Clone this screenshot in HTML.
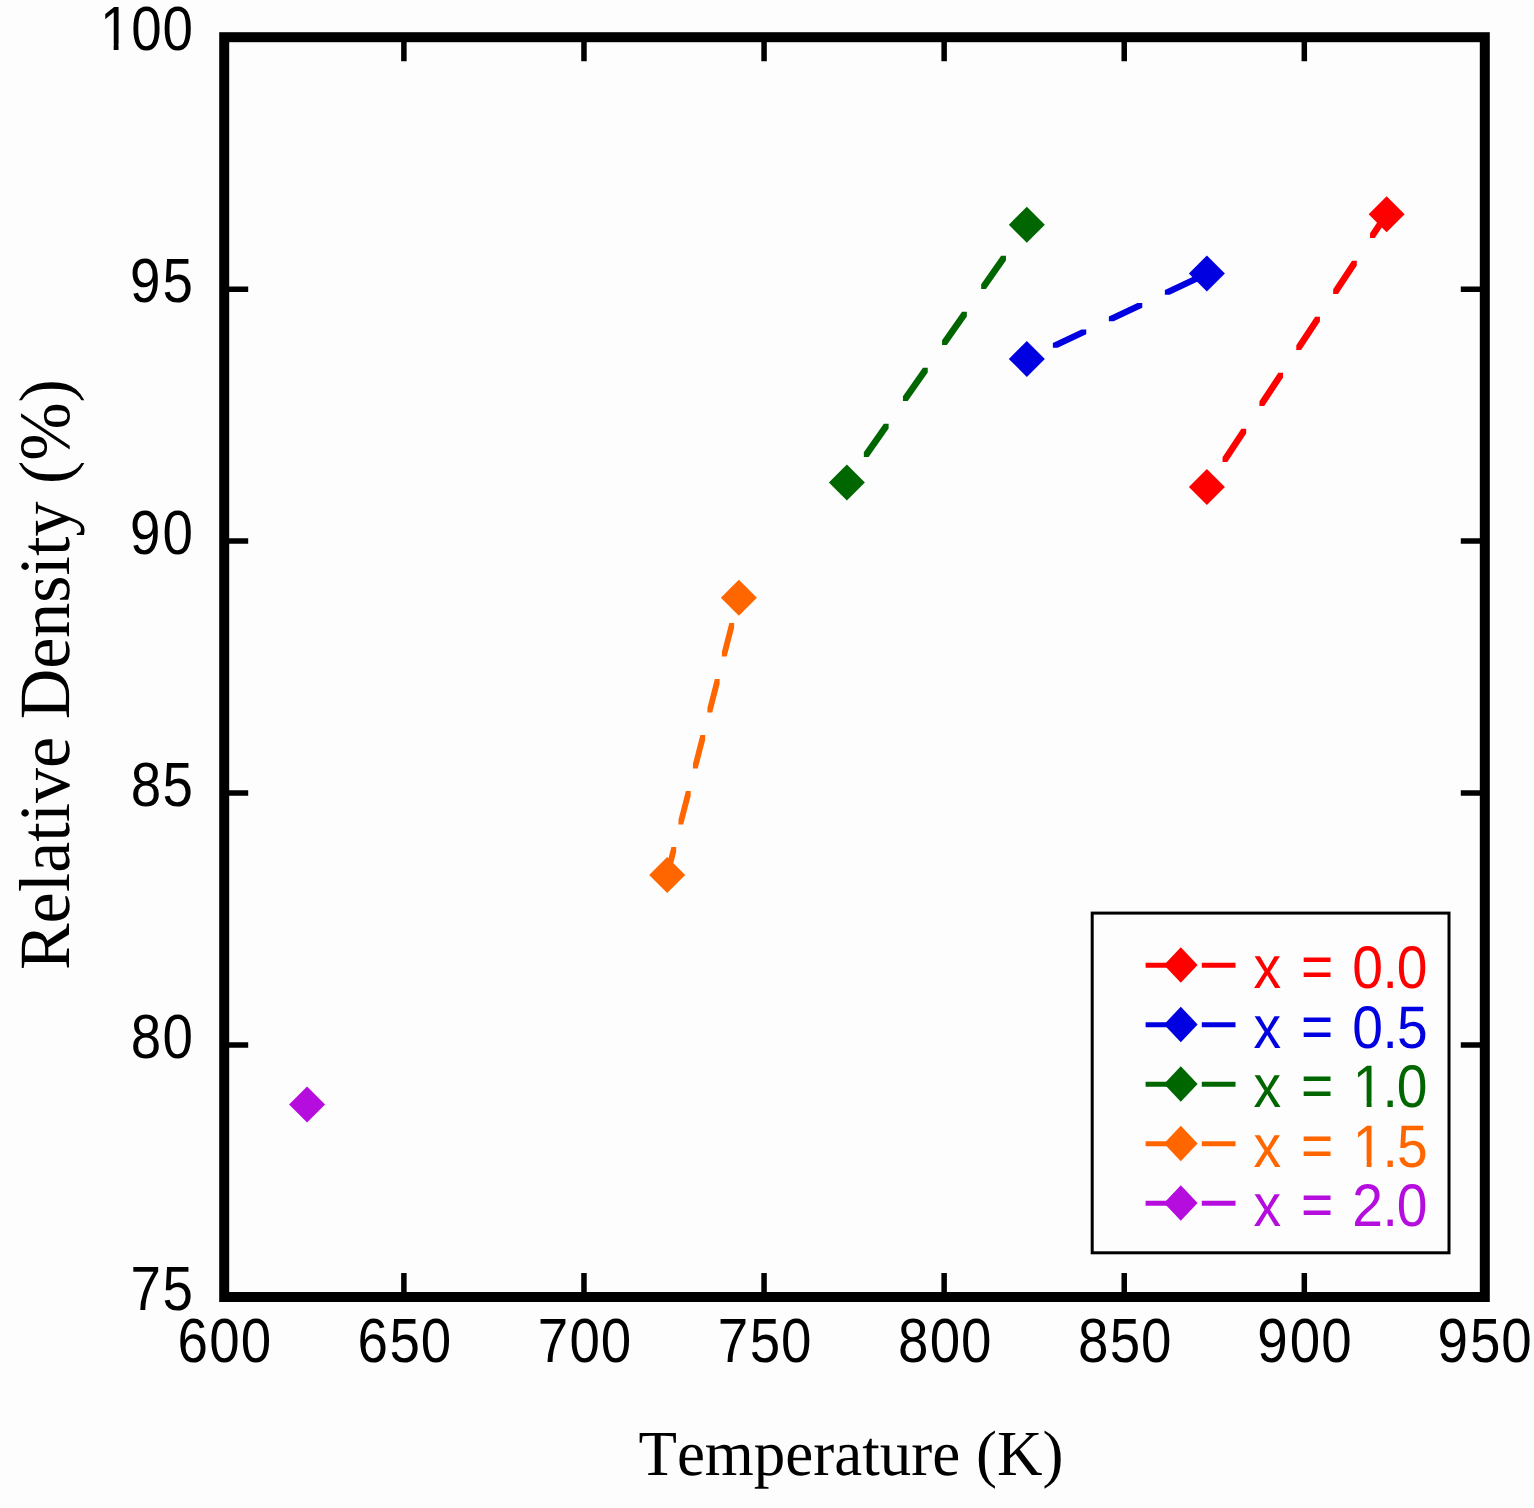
<!DOCTYPE html>
<html lang="en"><head><meta charset="utf-8">
<title>Relative Density vs Temperature</title>
<style>
html,body{margin:0;padding:0;background:#fdfdfd;}
body{width:1534px;height:1508px;}
svg{display:block;filter:blur(0.5px);}
text{font-kerning:none;font-variant-ligatures:none;text-rendering:geometricPrecision;white-space:pre;}
.sans{font-family:"Liberation Sans",Arial,Helvetica,sans-serif;}
.serif{font-family:"Liberation Serif","Times New Roman",Times,serif;}
</style></head><body>
<svg width="1534" height="1508" viewBox="0 0 1534 1508" role="img" aria-label="Relative density versus temperature">
<rect x="-10" y="-10" width="1554" height="1528" fill="#fdfdfd"/>
<g id="ticks" stroke="#000" stroke-width="5.5" fill="none">
<path d="M403.89 1297.00V1273.00M403.89 37.20V61.20"/>
<path d="M583.97 1297.00V1273.00M583.97 37.20V61.20"/>
<path d="M764.06 1297.00V1273.00M764.06 37.20V61.20"/>
<path d="M944.14 1297.00V1273.00M944.14 37.20V61.20"/>
<path d="M1124.23 1297.00V1273.00M1124.23 37.20V61.20"/>
<path d="M1304.31 1297.00V1273.00M1304.31 37.20V61.20"/>
<path d="M224.20 1045.04H248.20M1484.80 1045.04H1460.80"/>
<path d="M224.20 793.08H248.20M1484.80 793.08H1460.80"/>
<path d="M224.20 541.12H248.20M1484.80 541.12H1460.80"/>
<path d="M224.20 289.16H248.20M1484.80 289.16H1460.80"/>
</g>
<rect id="frame" x="224.2" y="37.2" width="1260.60" height="1259.80" fill="none" stroke="#000" stroke-width="10.0"/>
<g id="series">
<path d="M1222.54 457.30L1241.38 428.70L1246.18 428.70L1246.18 433.50L1227.34 462.10L1222.54 462.10ZM1259.42 401.30L1278.25 372.70L1283.05 372.70L1283.05 377.50L1264.22 406.10L1259.42 406.10ZM1296.29 345.30L1315.13 316.70L1319.93 316.70L1319.93 321.50L1301.09 350.10L1296.29 350.10ZM1333.17 289.30L1352.00 260.70L1356.80 260.70L1356.80 265.50L1337.97 294.10L1333.17 294.10ZM1370.04 233.30L1384.20 211.80L1389.00 211.80L1389.00 216.60L1374.84 238.10L1370.04 238.10Z" fill="#ff0000"/>
<path d="M1206.90 469.10L1224.90 487.10L1206.90 505.10L1188.90 487.10Z" fill="#ff0000"/>
<path d="M1386.60 196.20L1404.60 214.20L1386.60 232.20L1368.60 214.20Z" fill="#ff0000"/>
<path d="M1024.40 356.50L1025.45 356.00L1030.25 356.00L1030.25 360.80L1029.20 361.30L1024.40 361.30ZM1052.85 343.03L1081.45 329.48L1086.25 329.48L1086.25 334.28L1057.65 347.83L1052.85 347.83ZM1108.85 316.50L1137.45 302.96L1142.25 302.96L1142.25 307.76L1113.65 321.30L1108.85 321.30ZM1164.85 289.98L1193.45 276.43L1198.25 276.43L1198.25 281.23L1169.65 294.78L1164.85 294.78Z" fill="#0000e0"/>
<path d="M1026.80 340.90L1044.80 358.90L1026.80 376.90L1008.80 358.90Z" fill="#0000e0"/>
<path d="M1206.90 255.60L1224.90 273.60L1206.90 291.60L1188.90 273.60Z" fill="#0000e0"/>
<path d="M844.50 480.00L844.71 479.70L849.51 479.70L849.51 484.50L849.30 484.80L844.50 484.80ZM863.84 452.30L883.82 423.70L888.62 423.70L888.62 428.50L868.64 457.10L863.84 457.10ZM902.95 396.30L922.93 367.70L927.73 367.70L927.73 372.50L907.75 401.10L902.95 401.10ZM942.06 340.30L962.04 311.70L966.84 311.70L966.84 316.50L946.86 345.10L942.06 345.10ZM981.17 284.30L1001.14 255.70L1005.94 255.70L1005.94 260.50L985.97 289.10L981.17 289.10ZM1020.28 228.30L1024.40 222.40L1029.20 222.40L1029.20 227.20L1025.08 233.10L1020.28 233.10Z" fill="#006600"/>
<path d="M846.90 464.40L864.90 482.40L846.90 500.40L828.90 482.40Z" fill="#006600"/>
<path d="M1026.80 206.80L1044.80 224.80L1026.80 242.80L1008.80 224.80Z" fill="#006600"/>
<path d="M664.80 872.50L671.37 847.10L676.17 847.10L676.17 851.90L669.60 877.30L664.80 877.30ZM678.46 819.70L685.85 791.10L690.65 791.10L690.65 795.90L683.26 824.50L678.46 824.50ZM692.94 763.70L700.34 735.10L705.14 735.10L705.14 739.90L697.74 768.50L692.94 768.50ZM707.43 707.70L714.82 679.10L719.62 679.10L719.62 683.90L712.23 712.50L707.43 712.50ZM721.91 651.70L729.31 623.10L734.11 623.10L734.11 627.90L726.71 656.50L721.91 656.50ZM736.40 595.70L736.50 595.30L741.30 595.30L741.30 600.10L741.20 600.50L736.40 600.50Z" fill="#ff6600"/>
<path d="M667.20 856.90L685.20 874.90L667.20 892.90L649.20 874.90Z" fill="#ff6600"/>
<path d="M738.90 579.70L756.90 597.70L738.90 615.70L720.90 597.70Z" fill="#ff6600"/>
<path d="M307.05 1086.60L325.05 1104.60L307.05 1122.60L289.05 1104.60Z" fill="#b50ddd"/>
</g>
<rect id="legend" x="1092.2" y="913.1" width="356.80" height="339.70" fill="#fdfdfd" stroke="#000" stroke-width="3"/>
<path d="M1145.6 965.25H1180M1201.8 965.25H1235.5" stroke="#ff0000" stroke-width="4.9" fill="none"/>
<path d="M1180.80 947.15L1197.60 964.95L1180.80 982.75L1164.00 964.95Z" fill="#ff0000"/>
<text class="sans leg" transform="translate(1254.5 988.35) scale(0.92 1.0)" x="-1.10 8.90 50.59 60.59 106.25 139.22 154.51" dy="0 0 -1.2 0 1.2 0 0" font-size="60.0" fill="#ff0000">x = 0.0</text>
<path d="M1145.6 1024.75H1180M1201.8 1024.75H1235.5" stroke="#0000e0" stroke-width="4.9" fill="none"/>
<path d="M1180.80 1006.65L1197.60 1024.45L1180.80 1042.25L1164.00 1024.45Z" fill="#0000e0"/>
<text class="sans leg" transform="translate(1254.5 1047.85) scale(0.92 1.0)" x="-1.10 8.90 50.59 60.59 106.25 139.22 154.79" dy="0 0 -1.2 0 1.2 0 0" font-size="60.0" fill="#0000e0">x = 0.5</text>
<path d="M1145.6 1084.25H1180M1201.8 1084.25H1235.5" stroke="#006600" stroke-width="4.9" fill="none"/>
<path d="M1180.80 1066.15L1197.60 1083.95L1180.80 1101.75L1164.00 1083.95Z" fill="#006600"/>
<text class="sans leg" transform="translate(1254.5 1107.35) scale(0.92 1.0)" x="-1.10 8.90 50.59 60.59 106.81 139.22 154.51" dy="0 0 -1.2 0 1.2 0 0" font-size="60.0" fill="#006600">x = 1.0</text>
<path d="M1145.6 1143.75H1180M1201.8 1143.75H1235.5" stroke="#ff6600" stroke-width="4.9" fill="none"/>
<path d="M1180.80 1125.65L1197.60 1143.45L1180.80 1161.25L1164.00 1143.45Z" fill="#ff6600"/>
<text class="sans leg" transform="translate(1254.5 1166.85) scale(0.92 1.0)" x="-1.10 8.90 50.59 60.59 106.81 139.22 154.79" dy="0 0 -1.2 0 1.2 0 0" font-size="60.0" fill="#ff6600">x = 1.5</text>
<path d="M1145.6 1203.25H1180M1201.8 1203.25H1235.5" stroke="#b50ddd" stroke-width="4.9" fill="none"/>
<path d="M1180.80 1185.15L1197.60 1202.95L1180.80 1220.75L1164.00 1202.95Z" fill="#b50ddd"/>
<text class="sans leg" transform="translate(1254.5 1226.35) scale(0.92 1.0)" x="-1.10 8.90 50.59 60.59 106.30 139.22 154.51" dy="0 0 -1.2 0 1.2 0 0" font-size="60.0" fill="#b50ddd">x = 2.0</text>
<g id="xticklabels" class="sans" font-size="62.4" fill="#000">
<text transform="translate(0 1362.40) scale(0.877 1)" x="202.27 238.69 274.38" y="0">600</text>
<text transform="translate(0 1362.40) scale(0.877 1)" x="407.62 444.10 479.72" y="0">650</text>
<text transform="translate(0 1362.40) scale(0.877 1)" x="613.08 649.38 685.07" y="0">700</text>
<text transform="translate(0 1362.40) scale(0.877 1)" x="818.43 854.78 890.41" y="0">750</text>
<text transform="translate(0 1362.40) scale(0.877 1)" x="1023.92 1060.06 1095.75" y="0">800</text>
<text transform="translate(0 1362.40) scale(0.877 1)" x="1229.26 1265.47 1301.09" y="0">850</text>
<text transform="translate(0 1362.40) scale(0.877 1)" x="1433.65 1470.75 1506.44" y="0">900</text>
<text transform="translate(0 1362.40) scale(0.877 1)" x="1638.99 1676.15 1711.78" y="0">950</text>
</g>
<g id="yticklabels" class="sans" font-size="62.4" fill="#000">
<text transform="translate(0 1310.20) scale(0.877 1)" x="148.92 185.27" y="0">75</text>
<text transform="translate(0 1058.24) scale(0.877 1)" x="149.07 185.21" y="0">80</text>
<text transform="translate(0 806.28) scale(0.877 1)" x="149.07 185.27" y="0">85</text>
<text transform="translate(0 554.32) scale(0.877 1)" x="148.11 185.21" y="0">90</text>
<text transform="translate(0 302.36) scale(0.877 1)" x="148.11 185.27" y="0">95</text>
<text transform="translate(0 50.40) scale(0.877 1)" x="113.93 149.52 185.21" y="0">100</text>
</g>
<path d="M1355.53 1101.27H1366.65V1108.35H1355.53ZM1371.52 1101.27H1382.02V1108.35H1371.52Z" fill="#fdfdfd"/>
<path d="M1355.53 1160.77H1366.65V1167.85H1355.53ZM1371.52 1160.77H1382.02V1167.85H1371.52Z" fill="#fdfdfd"/>
<path d="M102.66 44.14H113.68V51.40H102.66ZM118.52 44.14H128.92V51.40H118.52Z" fill="#fdfdfd"/>
<text id="xlabel" class="serif" transform="translate(850.9 1474.9) scale(1.0 1.02)" font-size="63" fill="#000" text-anchor="middle">Temperature (K)</text>
<text id="ylabel" class="serif" transform="translate(68.8 674.6) rotate(-90) scale(1.0 1.03)" font-size="70" fill="#000" text-anchor="middle">Relative Density (%)</text>
</svg>
</body></html>
